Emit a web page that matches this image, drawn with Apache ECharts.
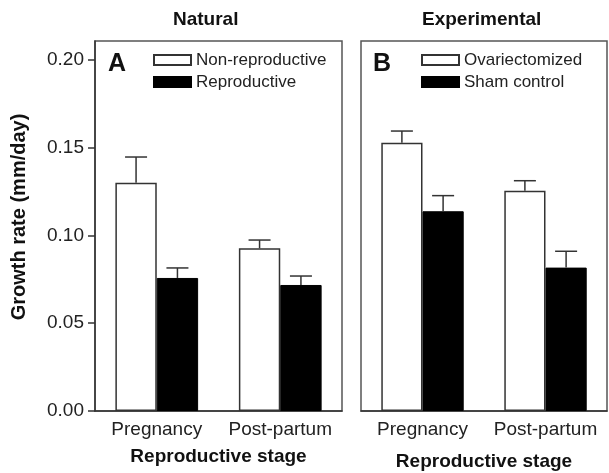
<!DOCTYPE html>
<html>
<head>
<meta charset="utf-8">
<script src="https://cdn.jsdelivr.net/npm/echarts@6/dist/echarts.min.js"></script>
<style>html,body{margin:0;padding:0;background:#fff}#c{width:609px;height:473px}</style>
</head>
<body>
<div id="c"></div>
<script>
const categories = ['Pregnancy', 'Post-partum'];
const natNonRep = [0.1301, 0.0927];
const natNonRepTop = [0.1447, 0.0974];
const natRep = [0.0758, 0.0718];
const natRepTop = [0.0815, 0.0769];
const expOvx = [0.1529, 0.1255];
const expOvxTop = [0.1595, 0.1312];
const expSham = [0.1138, 0.0817];
const expShamTop = [0.1227, 0.0910];
const yTicks = [0, 0.05, 0.10, 0.15, 0.20];

const FONT = 'Liberation Sans, Arial, sans-serif';
const GAP = 0.33;

function errSeries(name, means, tops, xi, yi, side) {
  return {
    type: 'custom', name: name + ' err', xAxisIndex: xi, yAxisIndex: yi, z: 5,
    data: categories.map((c, i) => [i, means[i], tops[i]]),
    renderItem: function (params, api) {
      const band = api.size([1, 0])[0];
      const bw = band * (1 - GAP) / 2;
      const base = api.coord([api.value(0), api.value(1)]);
      const top = api.coord([api.value(0), api.value(2)]);
      const x = base[0] + side * bw / 2;
      const cap = 11;
      return {
        type: 'group',
        children: [
          {type: 'line', shape: {x1: x, y1: base[1], x2: x, y2: top[1]}, style: {stroke: '#333', lineWidth: 1.5}},
          {type: 'line', shape: {x1: x - cap, y1: top[1], x2: x + cap, y2: top[1]}, style: {stroke: '#333', lineWidth: 1.5}}
        ]
      };
    }
  };
}

const chart = echarts.init(document.getElementById('c'));
const axisLine = {show: true, lineStyle: {color: '#333', width: 1.5}};
const option = {
  animation: false,
  backgroundColor: '#fff',
  grid: [
    {left: 95, right: 267, top: 41, bottom: 62, show: true, borderColor: '#555', borderWidth: 1.5,
      backgroundColor: 'transparent', outerBoundsMode: 'none', containLabel: false},
    {left: 361, right: 2, top: 41, bottom: 62, show: true, borderColor: '#555', borderWidth: 1.5,
      backgroundColor: 'transparent', outerBoundsMode: 'none', containLabel: false}
  ],
  xAxis: [0, 1].map(i => ({
    type: 'category', gridIndex: i, data: categories,
    axisLine: axisLine, axisTick: {show: false},
    axisLabel: {color: '#222', fontFamily: FONT, fontSize: 19, margin: 9, interval: 0, hideOverlap: false},
    name: 'Reproductive stage', nameLocation: 'middle', nameGap: i === 0 ? 36 : 41,
    nameTextStyle: {color: '#111', fontFamily: FONT, fontSize: 19, fontWeight: 'bold'}
  })),
  yAxis: [
    {
      type: 'value', gridIndex: 0, min: 0, max: 0.2108, interval: 0.05,
      axisLine: axisLine,
      axisTick: {show: true, inside: false, length: 7, customValues: yTicks, lineStyle: {color: '#333', width: 1.5}},
      splitLine: {show: false},
      axisLabel: {color: '#222', fontFamily: FONT, fontSize: 19, margin: 11, customValues: yTicks,
        formatter: v => v.toFixed(2)},
      name: 'Growth rate (mm/day)', nameLocation: 'middle', nameGap: 66, nameRotate: 90,
      nameTextStyle: {color: '#111', fontFamily: FONT, fontSize: 20, fontWeight: 'bold', padding: [0, 0, 0, 18]}
    },
    {
      type: 'value', gridIndex: 1, min: 0, max: 0.2108, interval: 0.05,
      axisLine: {show: false}, axisTick: {show: false}, axisLabel: {show: false}, splitLine: {show: false}
    }
  ],
  legend: [
    {data: ['Non-reproductive', 'Reproductive'], orient: 'vertical', left: 153, top: 51, icon: 'rect', padding: 0,
      itemWidth: 37, itemHeight: 10, itemGap: 4, selectedMode: false,
      textStyle: {color: '#222', fontFamily: FONT, fontSize: 17, lineHeight: 18}},
    {data: ['Ovariectomized', 'Sham control'], orient: 'vertical', left: 421, top: 51, icon: 'rect', padding: 0,
      itemWidth: 37, itemHeight: 10, itemGap: 4, selectedMode: false,
      textStyle: {color: '#222', fontFamily: FONT, fontSize: 17, lineHeight: 18}}
  ],
  graphic: [
    {type: 'text', left: 173, top: 10, style: {text: 'Natural', font: 'bold 19px ' + FONT, fill: '#111'}},
    {type: 'text', left: 422, top: 10, style: {text: 'Experimental', font: 'bold 19px ' + FONT, fill: '#111'}},
    {type: 'text', left: 108, top: 52, style: {text: 'A', font: 'bold 25px ' + FONT, fill: '#111'}},
    {type: 'text', left: 373, top: 52, style: {text: 'B', font: 'bold 25px ' + FONT, fill: '#111'}}
  ],
  series: [
    {type: 'bar', name: 'Non-reproductive', xAxisIndex: 0, yAxisIndex: 0, data: natNonRep,
      barGap: '0%', barCategoryGap: '33%', itemStyle: {color: '#fff', borderColor: '#333', borderWidth: 1.5}},
    {type: 'bar', name: 'Reproductive', xAxisIndex: 0, yAxisIndex: 0, data: natRep,
      barGap: '0%', barCategoryGap: '33%', itemStyle: {color: '#000', borderColor: '#000', borderWidth: 1}},
    {type: 'bar', name: 'Ovariectomized', xAxisIndex: 1, yAxisIndex: 1, data: expOvx,
      barGap: '0%', barCategoryGap: '33%', itemStyle: {color: '#fff', borderColor: '#333', borderWidth: 1.5}},
    {type: 'bar', name: 'Sham control', xAxisIndex: 1, yAxisIndex: 1, data: expSham,
      barGap: '0%', barCategoryGap: '33%', itemStyle: {color: '#000', borderColor: '#000', borderWidth: 1}},
    errSeries('nr', natNonRep, natNonRepTop, 0, 0, -1),
    errSeries('r', natRep, natRepTop, 0, 0, 1),
    errSeries('o', expOvx, expOvxTop, 1, 1, -1),
    errSeries('s', expSham, expShamTop, 1, 1, 1)
  ]
};
chart.setOption(option);
</script>
</body>
</html>
